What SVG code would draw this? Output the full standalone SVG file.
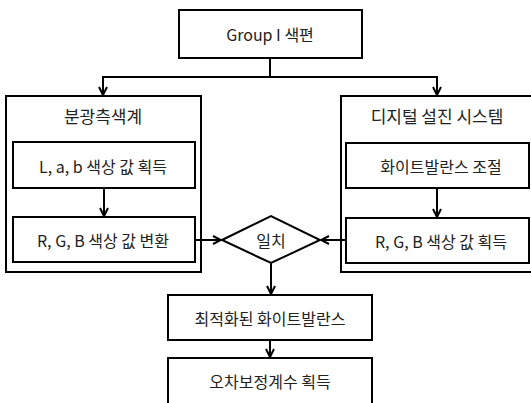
<svg xmlns="http://www.w3.org/2000/svg" width="531" height="403" viewBox="0 0 531 403">
<defs>
<marker id="ah" markerWidth="10" markerHeight="10" refX="9" refY="5" orient="auto" markerUnits="userSpaceOnUse">
<path d="M1,1 L9,5 L1,9" fill="none" stroke="#000" stroke-width="2"/>
</marker>
<style>
rect,polygon{fill:#fff;stroke:#000;stroke-width:2}
.c{fill:none;stroke:#000;stroke-width:2}
text{font-family:"Noto Sans CJK KR","Liberation Sans",sans-serif;font-size:16px;text-anchor:middle;dominant-baseline:central;fill:#222}
.t{font-size:17px}
</style>
</defs>
<rect x="0" y="0" width="531" height="403" style="fill:#fff;stroke:none"/>
<g id="top"><rect x="179" y="10" width="183" height="48"/><text x="270" y="34">Group I 색편</text></g>
<g id="left"><rect x="6" y="96" width="195" height="176"/><text class="t" x="103" y="115">분광측색계</text></g>
<g id="right"><rect x="341" y="96" width="200" height="176"/><text class="t" x="437" y="115">디지털 설진 시스템</text></g>
<g id="lab"><rect x="13" y="142" width="182" height="46"/><text x="103" y="166">L, a, b 색상 값 획득</text></g>
<g id="rgb1"><rect x="13" y="217" width="182" height="45"/><text x="103" y="240">R, G, B 색상 값 변환</text></g>
<g id="wb"><rect x="346" y="143" width="183" height="45"/><text x="441" y="166">화이트발란스 조절</text></g>
<g id="rgb2"><rect x="346" y="218" width="183" height="45"/><text x="441" y="241">R, G, B 색상 값 획득</text></g>
<g id="match"><polygon points="222,240 271,216 320,240 271,263"/><text x="271" y="240">일치</text></g>
<g id="opt"><rect x="168" y="295" width="204" height="45"/><text x="270" y="318">최적화된 화이트발란스</text></g>
<g id="err"><rect x="168" y="358" width="204" height="60"/><text x="270" y="381">오차보정계수 획득</text></g>
<g id="connectors">
<path class="c" d="M270,58 V77"/>
<path class="c" d="M103,77 H437"/>
<path class="c" d="M103,76 V95" marker-end="url(#ah)"/>
<path class="c" d="M437,76 V95" marker-end="url(#ah)"/>
<path class="c" d="M104,188 V216" marker-end="url(#ah)"/>
<path class="c" d="M437,188 V217" marker-end="url(#ah)"/>
<path class="c" d="M195,240 H221" marker-end="url(#ah)"/>
<path class="c" d="M346,240 H321" marker-end="url(#ah)"/>
<path class="c" d="M271,263 V294" marker-end="url(#ah)"/>
<path class="c" d="M270,340 V357" marker-end="url(#ah)"/>
</g>
</svg>
